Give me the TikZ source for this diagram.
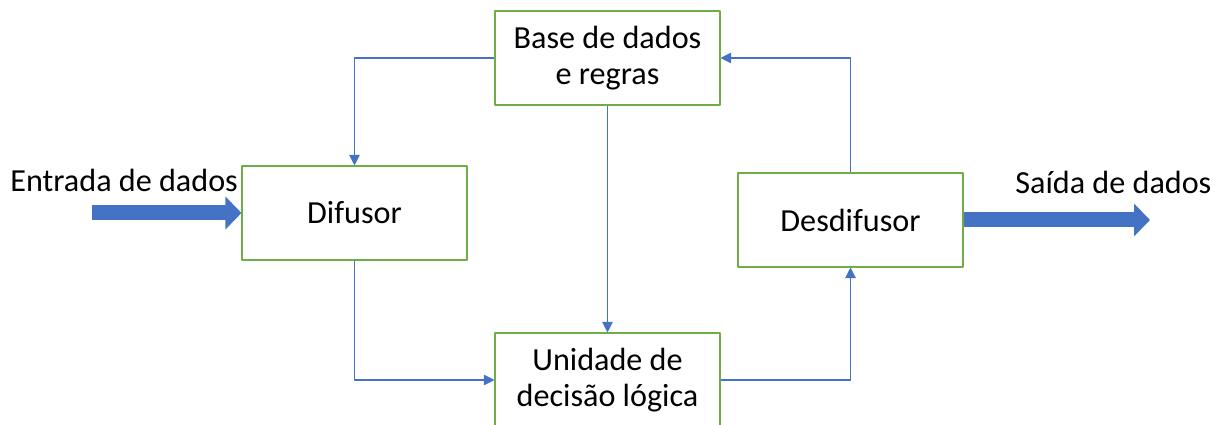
\documentclass[tikz,border=0pt]{standalone}
\usepackage{fontspec}
\setmainfont{Carlito}
\usetikzlibrary{arrows.meta}
\definecolor{boxgreen}{RGB}{112,173,71}
\definecolor{lineblue}{RGB}{68,114,196}
\begin{document}
\begin{tikzpicture}[scale=1, line join=round,
		bloco/.style={draw=boxgreen, line width=0.6pt, minimum width=4.5cm, minimum height=1.88cm, align=center, font=\fontsize{18.3}{20.8}\selectfont},
		liga/.style={draw=lineblue, line width=0.6pt, -{Triangle[length=6pt,width=6pt]}},
		grossa/.style={draw=lineblue, line width=0.3cm, -{Triangle[length=0.32cm,width=0.64cm]}},
		rotulo/.style={font=\fontsize{18.3}{20.8}\selectfont, inner sep=0pt}]
			\useasboundingbox (0,0) rectangle (24.48,8.5);
			\node[bloco] (B) at (12.15,7.34) {Base de dados\\e regras};
			\node[bloco] (F) at (7.09,4.24) {Difusor};
			\node[bloco] (D) at (17.01,4.10) {Desdifusor};
			\node[bloco] (U) at (12.15,0.90) {Unidade de\\decisão lógica};
			\coordinate (E) at (1.84,4.24);
			\coordinate (S) at (23.00,4.10);
			\draw[liga] (B.west) -| (F.north);
			\draw[liga] (B.south) -- (U.north);
			\draw[liga] (F.south) |- (U.west);
			\draw[liga] (U.east) -| (D.south);
			\draw[liga] (D.north) |- (B.east);
			\draw[grossa] (E) -- (F.west);
			\draw[grossa] (D.east) -- (S);
			\node[rotulo, anchor=west] (e) at (0.2,4.9) {Entrada de dados};
			\node[rotulo, anchor=west] (s) at (20.3,4.86) {Saída de dados};
		\end{tikzpicture}
\end{document}
